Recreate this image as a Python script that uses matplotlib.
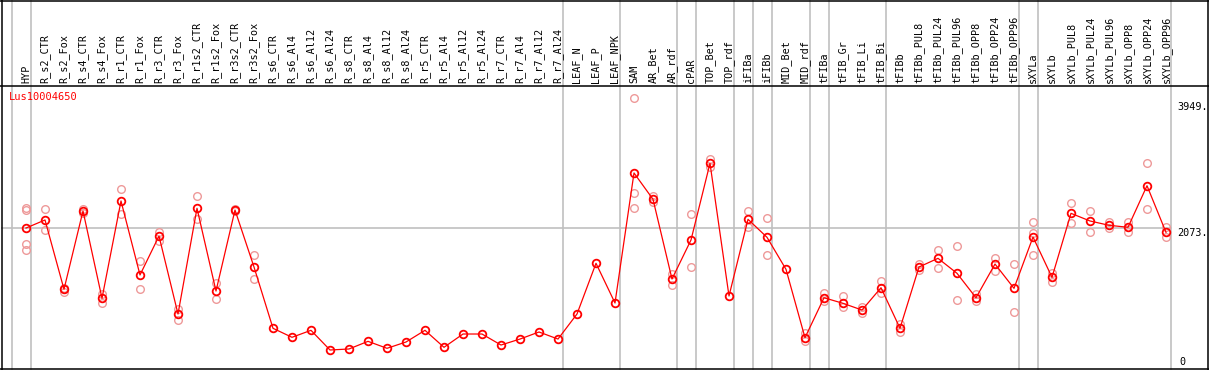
import matplotlib
matplotlib.use("Agg")
import matplotlib.pyplot as plt
import matplotlib.transforms as mtransforms
from matplotlib.lines import Line2D

# column labels
categories = [
    "HYP", "R_s2_CTR", "R_s2_Fox", "R_s4_CTR", "R_s4_Fox", "R_r1_CTR", "R_r1_Fox",
    "R_r3_CTR", "R_r3_Fox", "R_r1s2_CTR", "R_r1s2_Fox", "R_r3s2_CTR", "R_r3s2_Fox",
    "R_s6_CTR", "R_s6_Al4", "R_s6_Al12", "R_s6_Al24", "R_s8_CTR", "R_s8_Al4",
    "R_s8_Al12", "R_s8_Al24", "R_r5_CTR", "R_r5_Al4", "R_r5_Al12", "R_r5_Al24",
    "R_r7_CTR", "R_r7_Al4", "R_r7_Al12", "R_r7_Al24", "LEAF_N", "LEAF_P", "LEAF_NPK",
    "SAM", "AR_Bet", "AR_rdf", "cPAR", "TOP_Bet", "TOP_rdf", "iFIBa", "iFIBb",
    "MID_Bet", "MID_rdf", "tFIBa", "tFIB_Gr", "tFIB_Li", "tFIB_Bi", "tFIBb",
    "tFIBb_PUL8", "tFIBb_PUL24", "tFIBb_PUL96", "tFIBb_OPP8", "tFIBb_OPP24",
    "tFIBb_OPP96", "sXYLa", "sXYLb", "sXYLb_PUL8", "sXYLb_PUL24", "sXYLb_PUL96",
    "sXYLb_OPP8", "sXYLb_OPP24", "sXYLb_OPP96",
]

# mean expression per column
means = [
    2077, 2197, 1165, 2331, 1031, 2480, 1378, 1958, 797, 2371, 1139, 2345, 1497,
    584, 450, 554, 261, 276, 390, 286, 380, 554, 301, 499, 499, 335, 424, 529, 424,
    797, 1552, 961,
    2897, 2505, 1318, 1899, 3041, 1065, 2207, 1939, 1462, 444, 1039, 956, 856, 1188,
    584, 1497, 1626, 1403, 1039, 1541, 1179, 1943, 1343, 2296, 2182, 2118, 2088,
    2707, 2013,
]

# replicate values per column
replicates = [
    [2371, 2345, 1839, 1750], [2360, 2043], [1188, 1129], [2360, 2305],
    [1090, 965], [2654, 2281], [1586, 1165], [2022, 1888], [871, 707],
    [2554, 2207], [1254, 1016], [2360, 2330], [1671, 1313],
    [], [], [], [], [], [], [], [], [], [], [], [], [], [], [], [],
    [], [], [],
    [4009, 2594, 2371], [2554, 2469], [1392, 1233], [2281, 1497], [3105, 2990],
    [], [2335, 2097], [2226, 1671], [], [518, 395], [1114, 990], [1065, 896],
    [905, 807], [1293, 1114], [648, 524], [1541, 1452], [1745, 1486],
    [1805, 1001], [1099, 990], [1635, 1442], [1537, 822],
    [2162, 1671, 1998], [1412, 1278], [2445, 2147], [2331, 2013], [2162, 2073],
    [2171, 2013], [3041, 2356], [2097, 1939],
]

# last column of each group (separator lines)
group_ends = [-1, 0, 28, 31, 34, 35, 37, 38, 39, 41, 42, 45, 52, 53, 60]

y_marks = [3949, 2073, 0]
y_mark_text = ["3949.", "2073.", "0"]
gene = "Lus10004650"

W, H = 1209, 370
fig = plt.figure(figsize=(W / 100, H / 100), dpi=100)
ax = fig.add_axes([1 / W, 1 / H, 1207 / W, 283 / H])
ax.set_xlim((1 - 26) / 19, (1208 - 26) / 19)
ax.set_ylim(-22, 4192)
ax.axis("off")

mono = "DejaVu Sans Mono"
grey = "#c0c0c0"
red = "#ff0000"
pink = "#ee9999"

ext = (369) / 283
for g in group_ends:
    ax.axvline(g + 0.245, ymin=0, ymax=ext, color=grey, lw=1.2, clip_on=False, zorder=1)

xr = (60.245 - ax.get_xlim()[0]) / (ax.get_xlim()[1] - ax.get_xlim()[0])
ax.axhline(2073, xmin=0, xmax=xr, color=grey, lw=1.2, zorder=1)

xs = list(range(len(categories)))
for i, reps in enumerate(replicates):
    if reps:
        ax.plot([i] * len(reps), reps, "o", ms=5.5, mfc="none", mec=pink, mew=1.0,
                zorder=2, clip_on=False)

ax.plot(xs, means, "-", color=red, lw=0.9, zorder=3)
ax.plot(xs, means, "o", ms=5.5, mfc="none", mec=red, mew=1.3, zorder=4)

# column labels above plot
lab_tr = mtransforms.blended_transform_factory(ax.transData, ax.transAxes)
for i, c in enumerate(categories):
    ax.text(i, 1 + 3 / 283, c, rotation=90, ha="center", va="bottom", fontsize=7.3,
            family=mono, transform=lab_tr)

# right side value marks
for v, t in zip(y_marks, y_mark_text):
    if v == 0:
        tr = mtransforms.offset_copy(ax.transData, fig, x=0, y=5.8, units="dots")
        xpos = (1179 - 26) / 19
    else:
        tr = mtransforms.offset_copy(ax.transData, fig, x=0, y=-4.2, units="dots")
        xpos = (1177 - 26) / 19
    ax.text(xpos, v, t, ha="left", va="center", fontsize=7.3, family=mono,
            color="black", transform=tr)

fig.text(9 / W, 1 - 97.5 / H, gene, color=red, fontsize=7.5, family=mono,
         ha="left", va="center")

# frame and header separator
fig.add_artist(Line2D([1.5 / W, 1.5 / W], [0, 1], transform=fig.transFigure, color="black", lw=1.1))
fig.add_artist(Line2D([1207.5 / W, 1207.5 / W], [0, 1], transform=fig.transFigure, color="black", lw=1.1))
fig.add_artist(Line2D([0, 1], [1 - 0.7 / H, 1 - 0.7 / H], transform=fig.transFigure, color="black", lw=1.1))
fig.add_artist(Line2D([0, 1], [1.2 / H, 1.2 / H], transform=fig.transFigure, color="black", lw=1.1))
fig.add_artist(Line2D([0, 1], [1 - 85.5 / H, 1 - 85.5 / H], transform=fig.transFigure, color="black", lw=1.1))

fig.savefig("out.png", dpi=100)
